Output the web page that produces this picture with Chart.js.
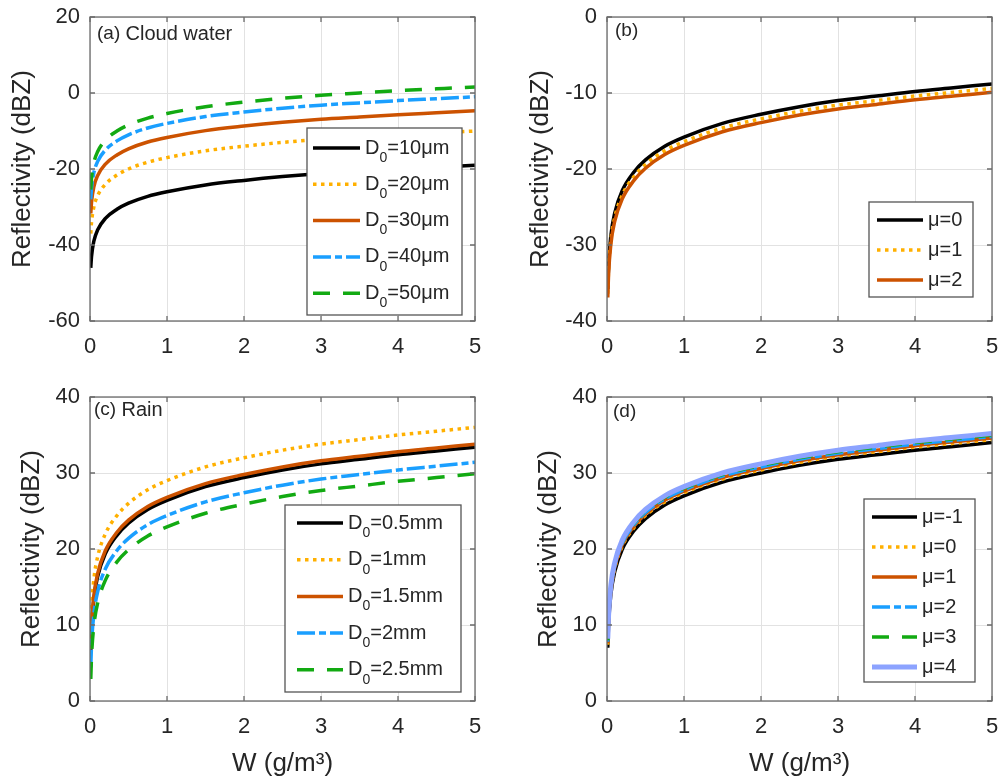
<!DOCTYPE html>
<html lang="en">
<head>
<meta charset="UTF-8" />
<title>Reflectivity vs liquid water content</title>
<script src="https://cdn.jsdelivr.net/npm/chart.js"></script>
<style>
  body { margin: 0; background: #fff; }
  #wrap { position: relative; width: 1003px; height: 783px; }
  canvas { position: absolute; }
</style>
</head>
<body>
<div id="wrap">
  <canvas id="pa" width="500" height="380" style="left:0;top:0"></canvas>
  <canvas id="pb" width="503" height="380" style="left:500px;top:0"></canvas>
  <canvas id="pc" width="500" height="403" style="left:0;top:380px"></canvas>
  <canvas id="pd" width="503" height="403" style="left:500px;top:380px"></canvas>
</div>
<script>
// liquid water content W (g/m3), shared by every curve
const W_VALUES = [0.01, 0.02, 0.05, 0.1, 0.2, 0.35, 0.5, 0.75, 1, 1.5, 2, 2.5, 3, 3.5, 4, 4.5, 5];
const X_TICKS = [0, 1, 2, 3, 4, 5];

// (a) cloud water, different D0
const cloudLabels = ['D₀=10μm', 'D₀=20μm', 'D₀=30μm', 'D₀=40μm', 'D₀=50μm'];
const cloud10 = [-46, -43, -39, -36, -33, -30.6, -29, -27.2, -26, -24.2, -23, -22, -21.2, -20.6, -20, -19.5, -19];
const cloud20 = [-37, -34, -30, -27, -24, -21.6, -20, -18.2, -17, -15.2, -14, -13, -12.2, -11.6, -11, -10.5, -10];
const cloud30 = [-31.7, -28.7, -24.7, -21.7, -18.7, -16.3, -14.7, -12.9, -11.7, -9.9, -8.7, -7.7, -6.9, -6.3, -5.7, -5.2, -4.7];
const cloud40 = [-28, -25, -21, -18, -15, -12.6, -11, -9.2, -8, -6.2, -5, -4, -3.2, -2.6, -2, -1.5, -1];
const cloud50 = [-25.4, -22.4, -18.4, -15.4, -12.4, -10, -8.4, -6.6, -5.4, -3.6, -2.4, -1.4, -0.6, 0, 0.6, 1.1, 1.6];
const cloudYTicks = [-60, -40, -20, 0, 20];

// (b) cloud water, different mu
const cloudMuLabels = ['μ=0', 'μ=1', 'μ=2'];
const cloudMu0 = [-35.8, -32.8, -28.8, -25.8, -22.8, -20.4, -18.8, -17, -15.8, -14, -12.8, -11.8, -11, -10.4, -9.8, -9.3, -8.8];
const cloudMu1 = [-36.4, -33.4, -29.4, -26.4, -23.4, -21, -19.4, -17.6, -16.4, -14.6, -13.4, -12.4, -11.6, -11, -10.4, -9.9, -9.4];
const cloudMu2 = [-36.9, -33.9, -29.9, -26.9, -23.9, -21.5, -19.9, -18.1, -16.9, -15.1, -13.9, -12.9, -12.1, -11.5, -10.9, -10.4, -9.9];
const cloudMuYTicks = [-40, -30, -20, -10, 0];

// (c) rain, different D0
const rainLabels = ['D₀=0.5mm', 'D₀=1mm', 'D₀=1.5mm', 'D₀=2mm', 'D₀=2.5mm'];
const rain05 = [6.4, 9.4, 13.4, 16.4, 19.4, 21.8, 23.4, 25.2, 26.4, 28.2, 29.4, 30.4, 31.2, 31.8, 32.4, 32.9, 33.4];
const rain10 = [9, 12, 16, 19, 22, 24.4, 26, 27.8, 29, 30.8, 32, 33, 33.8, 34.4, 35, 35.5, 36];
const rain15 = [6.8, 9.8, 13.8, 16.8, 19.8, 22.2, 23.8, 25.6, 26.8, 28.6, 29.8, 30.8, 31.6, 32.2, 32.8, 33.3, 33.8];
const rain20 = [4.4, 7.4, 11.4, 14.4, 17.4, 19.8, 21.4, 23.2, 24.4, 26.2, 27.4, 28.4, 29.2, 29.8, 30.4, 30.9, 31.4];
const rain25 = [2.9, 5.9, 9.9, 12.9, 15.9, 18.3, 19.9, 21.7, 22.9, 24.7, 25.9, 26.9, 27.7, 28.3, 28.9, 29.4, 29.9];

// (d) rain, different mu
const rainMuLabels = ['μ=-1', 'μ=0', 'μ=1', 'μ=2', 'μ=3', 'μ=4'];
const rainMuM1 = [7, 10, 14, 17, 20, 22.4, 24, 25.8, 27, 28.8, 30, 31, 31.8, 32.4, 33, 33.5, 34];
const rainMu0 = [7.4, 10.4, 14.4, 17.4, 20.4, 22.8, 24.4, 26.2, 27.4, 29.2, 30.4, 31.4, 32.2, 32.8, 33.4, 33.9, 34.4];
const rainMu1 = [7.6, 10.6, 14.6, 17.6, 20.6, 23, 24.6, 26.4, 27.6, 29.4, 30.6, 31.6, 32.4, 33, 33.6, 34.1, 34.6];
const rainMu2 = [7.8, 10.8, 14.8, 17.8, 20.8, 23.2, 24.8, 26.6, 27.8, 29.6, 30.8, 31.8, 32.6, 33.2, 33.8, 34.3, 34.8];
const rainMu3 = [8, 11, 15, 18, 21, 23.4, 25, 26.8, 28, 29.8, 31, 32, 32.8, 33.4, 34, 34.5, 35];
const rainMu4 = [8.2, 11.2, 15.2, 18.2, 21.2, 23.6, 25.2, 27, 28.2, 30, 31.2, 32.2, 33, 33.6, 34.2, 34.7, 35.2];
const rainYTicks = [0, 10, 20, 30, 40];

// line styles (matlab-ish)
const FONT = '"Liberation Sans", Arial, Helvetica, sans-serif';
const TXT = '#262626';
const GRID = '#e2e2e2';
const S_BLACK = { color: '#000000', dash: [], width: 3.5 };
const S_DOT = { color: '#FFB000', dash: [3.5, 4.5], width: 3.5 };
const S_ORANGE = { color: '#CC5200', dash: [], width: 3.5 };
const S_DASHDOT = { color: '#1A9FFF', dash: [18, 4, 7, 4], width: 3.5 };
const S_DASH = { color: '#12AA12', dash: [17, 13], width: 3.5 };
const S_LIGHT = { color: '#8CA3FF', dash: [], width: 5 };

function drawLabelText(c, text, x, y, size) {
  // draws "D₀=..." with a real subscript
  c.fillStyle = TXT;
  c.textBaseline = 'middle';
  c.textAlign = 'left';
  c.font = size + 'px ' + FONT;
  const parts = text.split('₀');
  if (parts.length === 1) {
    c.fillText(text, x, y);
    return;
  }
  c.fillText(parts[0], x, y);
  let xx = x + c.measureText(parts[0]).width;
  c.font = Math.round(size * 0.72) + 'px ' + FONT;
  c.fillText('0', xx, y + 10);
  xx += c.measureText('0').width;
  c.font = size + 'px ' + FONT;
  c.fillText(parts[1], xx, y);
}

const frameBox = {
  id: 'frameBox',
  afterDatasetsDraw(chart) {
    const c = chart.ctx;
    const a = chart.chartArea;
    const xs = chart.scales.x, ys = chart.scales.y;
    c.save();
    c.strokeStyle = '#6b6b6b';
    c.lineWidth = 1.3;
    c.strokeRect(a.left, a.top, a.right - a.left, a.bottom - a.top);
    c.beginPath();
    xs.ticks.forEach((t) => {
      const px = xs.getPixelForValue(t.value);
      c.moveTo(px, a.bottom); c.lineTo(px, a.bottom - 5);
      c.moveTo(px, a.top); c.lineTo(px, a.top + 5);
    });
    ys.ticks.forEach((t) => {
      const py = ys.getPixelForValue(t.value);
      c.moveTo(a.left, py); c.lineTo(a.left + 5, py);
      c.moveTo(a.right, py); c.lineTo(a.right - 5, py);
    });
    c.stroke();
    c.restore();
  }
};

const boxLegend = {
  id: 'boxLegend',
  afterDatasetsDraw(chart, args, o) {
    const c = chart.ctx;
    c.save();
    c.fillStyle = '#ffffff';
    c.fillRect(o.x, o.y, o.w, o.h);
    c.strokeStyle = '#555555';
    c.lineWidth = 1.3;
    c.strokeRect(o.x, o.y, o.w, o.h);
    chart.data.datasets.forEach((ds, i) => {
      const yy = o.y + o.first + i * o.row;
      c.beginPath();
      c.strokeStyle = ds.borderColor;
      c.lineWidth = ds.borderWidth;
      c.setLineDash(ds.borderDash || []);
      c.moveTo(o.x + o.l0, yy);
      c.lineTo(o.x + o.l1, yy);
      c.stroke();
      c.setLineDash([]);
      drawLabelText(c, ds.label, o.x + o.tx, yy, o.size);
    });
    c.restore();
  }
};

const panelTag = {
  id: 'panelTag',
  afterDatasetsDraw(chart, args, o) {
    const c = chart.ctx;
    c.save();
    c.fillStyle = TXT;
    c.textBaseline = 'middle';
    c.textAlign = 'left';
    c.font = '19px ' + FONT;
    c.fillText(o.tag, o.x, o.y);
    if (o.text) {
      const w = c.measureText(o.tag + ' ').width;
      c.font = '20px ' + FONT;
      c.fillText(o.text, o.x + w, o.y);
    }
    c.restore();
  }
};

function makePanel(id, p) {
  const ctx = document.getElementById(id).getContext('2d');
  const n = p.series.length;
  return new Chart(ctx, {
    type: 'line',
    data: {
      datasets: p.series.map((s, i) => ({
        label: p.labels[i],
        data: W_VALUES.map((w, j) => ({ x: w, y: s[j] })),
        borderColor: p.styles[i].color,
        borderDash: p.styles[i].dash,
        borderWidth: p.styles[i].width,
        borderCapStyle: 'butt',
        pointRadius: 0,
        fill: false,
        cubicInterpolationMode: 'monotone',
        order: n - i
      }))
    },
    options: {
      responsive: false,
      animation: false,
      events: [],
      layout: { padding: { left: 0, right: p.padR, top: 17, bottom: 0 } },
      plugins: {
        legend: { display: false },
        tooltip: { enabled: false },
        boxLegend: p.legend,
        panelTag: p.tag
      },
      scales: {
        x: {
          type: 'linear',
          min: 0,
          max: 5,
          afterBuildTicks: (s) => { s.ticks = X_TICKS.map((v) => ({ value: v })); },
          afterFit: (s) => { s.height = p.xH; s.paddingLeft = 0; s.paddingRight = 0; },
          grid: { color: GRID, drawTicks: false, lineWidth: 1 },
          border: { display: false },
          ticks: { color: TXT, font: { size: 22, family: FONT }, padding: 13, maxRotation: 0 },
          title: {
            display: p.xTitle,
            text: 'W (g/m³)',
            color: TXT,
            font: { size: 26, family: FONT },
            padding: { top: 0, bottom: 4 }
          }
        },
        y: {
          min: p.yTicks[0],
          max: p.yTicks[p.yTicks.length - 1],
          afterBuildTicks: (s) => { s.ticks = p.yTicks.map((v) => ({ value: v })); },
          afterFit: (s) => { s.width = p.yW; s.paddingTop = 0; s.paddingBottom = 0; },
          grid: { color: GRID, drawTicks: false, lineWidth: 1 },
          border: { display: false },
          ticks: { color: TXT, font: { size: 22, family: FONT }, padding: 10 },
          title: {
            display: true,
            text: 'Reflectivity (dBZ)',
            color: TXT,
            font: { size: 26, family: FONT },
            padding: { top: p.yTitlePad, bottom: 0 }
          }
        }
      }
    },
    plugins: [frameBox, boxLegend, panelTag]
  });
}

makePanel('pa', {
  series: [cloud10, cloud20, cloud30, cloud40, cloud50],
  labels: cloudLabels,
  styles: [S_BLACK, S_DOT, S_ORANGE, S_DASHDOT, S_DASH],
  yTicks: cloudYTicks,
  yW: 90, padR: 25, xH: 59, xTitle: false, yTitlePad: 7,
  legend: { x: 307, y: 128, w: 155, h: 187, first: 20, row: 36.3, l0: 6, l1: 53, tx: 58, size: 20 },
  tag: { tag: '(a)', text: 'Cloud water', x: 97, y: 34 }
});

makePanel('pb', {
  series: [cloudMu0, cloudMu1, cloudMu2],
  labels: cloudMuLabels,
  styles: [S_BLACK, S_DOT, S_ORANGE],
  yTicks: cloudMuYTicks,
  yW: 107, padR: 11, xH: 59, xTitle: false, yTitlePad: 25,
  legend: { x: 369, y: 202, w: 104, h: 95, first: 18, row: 30, l0: 8, l1: 54, tx: 59, size: 20 },
  tag: { tag: '(b)', text: '', x: 115, y: 31 }
});

makePanel('pc', {
  series: [rain05, rain10, rain15, rain20, rain25],
  labels: rainLabels,
  styles: [S_BLACK, S_DOT, S_ORANGE, S_DASHDOT, S_DASH],
  yTicks: rainYTicks,
  yW: 90, padR: 25, xH: 82, xTitle: true, yTitlePad: 16,
  legend: { x: 285, y: 125, w: 176, h: 187, first: 18, row: 36.7, l0: 12, l1: 58, tx: 63, size: 20 },
  tag: { tag: '(c)', text: 'Rain', x: 94, y: 30 }
});

makePanel('pd', {
  series: [rainMuM1, rainMu0, rainMu1, rainMu2, rainMu3, rainMu4],
  labels: rainMuLabels,
  styles: [S_BLACK, S_DOT, S_ORANGE, S_DASHDOT, S_DASH, S_LIGHT],
  yTicks: rainYTicks,
  yW: 107, padR: 11, xH: 82, xTitle: true, yTitlePad: 33,
  legend: { x: 364, y: 119, w: 111, h: 183, first: 18, row: 30, l0: 8, l1: 53, tx: 58, size: 20 },
  tag: { tag: '(d)', text: '', x: 113, y: 32 }
});
</script>
</body>
</html>
